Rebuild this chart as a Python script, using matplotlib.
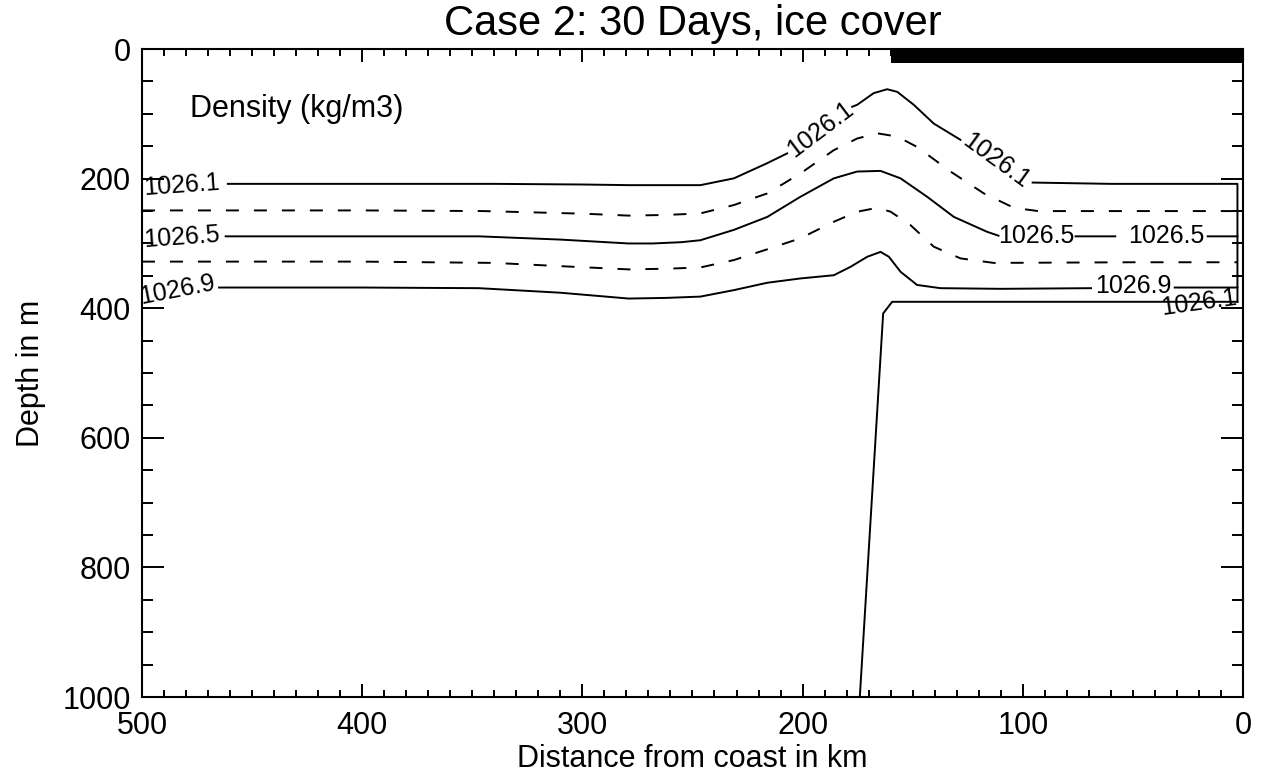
import numpy as np
import matplotlib.pyplot as plt
from matplotlib.ticker import MultipleLocator

plt.rcParams['font.family'] = ['Liberation Sans', 'DejaVu Sans']

# =========================
# DATA (distance from coast in km, depth in m)
# nan marks a gap where a contour label sits
# =========================

x_rho_261 = [461, 400, 340, 300, 279, 262, 246.4, 231.2, 216, 207, np.nan,
             177.5, 175.2, 167.7, 161.6, 157, 149.5, 140.4, 128.3, np.nan,
             95.5, 60, 20, 2.5, 2.5]
d_rho_261 = [208, 208, 208, 209, 210, 210, 210, 199.5, 176, 161, np.nan,
             89, 86, 68, 62, 66, 86, 115, 140, np.nan,
             206, 208, 208, 208, 390]

x_rho_263 = [500, 400, 345, 300, 279, 262, 246.4, 231.2, 216, 201, 185.8,
             175.2, 166.1, 157, 148, 132.8, 117.7, 104, 93, 50, 2.5]
d_rho_263 = [249, 249, 250, 254, 257, 256, 253.6, 240.7, 222.7, 192, 156,
             138, 130, 135, 151, 189, 222.7, 245, 250, 250, 250]

x_rho_265 = [462, 400, 347, 310, 279, 268, 255, 246.4, 231.2, 216, 201, 185.8,
             175.2, 164.6, 155.5, 143.4, 131.3, 116.2, 111, np.nan,
             76, 58, np.nan, 16, 2.5]
d_rho_265 = [289, 289, 289, 294, 300, 300, 298, 295, 279, 259, 228, 199.5,
             189, 188, 199.5, 228, 259, 282, 288, np.nan,
             289, 289, np.nan, 289, 289]

x_rho_267 = [500, 400, 340, 310, 279, 262, 246.4, 231.2, 216, 201, 185.8,
             175.2, 166.1, 160, 151, 140.4, 128.3, 113.2, 50, 2.5]
d_rho_267 = [328, 328, 330, 335, 340, 339, 337, 325.6, 309, 292, 266.5,
             251, 245, 251, 271.6, 305, 323, 330, 329, 329]

x_rho_269 = [465, 400, 347, 310, 279, 262, 246.4, 231.2, 216, 201, 185.8,
             178.2, 170.6, 164.6, 160.8, 155.5, 148, 137.4, 110, 69, np.nan,
             31, 2.5]
d_rho_269 = [368, 368, 369, 376, 385, 384, 382, 372, 360.6, 354, 349,
             336, 320.5, 313, 320.5, 343.7, 364, 369, 370, 369, np.nan,
             368, 368]

# shelf break and shelf
x_bottom = [174, 163.4, 159.3, 2.5]
d_bottom = [1000, 408, 390, 390]

# ice cover extent (km from coast)
ice_x = [160, 0]

# contour labels: text, km, depth, rotation
contour_labels = [
    ("1026.1", 482, 210, 4),
    ("1026.5", 482, 290, 4),
    ("1026.9", 484, 371, 11),
    ("1026.1", 192, 124, 37),
    ("1026.1", 112, 173, -36),
    ("1026.5", 94, 289, 0),
    ("1026.5", 35, 289, 0),
    ("1026.9", 50, 365, 0),
    ("1026.1", 20, 392, 8),
]

# =========================
# GRAFICA
# =========================

fig = plt.figure(figsize=(12.7, 7.79), dpi=100)
ax = fig.add_axes([0.1118, 0.1052, 0.8669, 0.8318])

lw = 1.4
dash = (13 / 1.39 / lw, 15 / 1.39 / lw)

ax.plot(x_rho_261, d_rho_261, color="black", lw=lw)
ax.plot(x_rho_263, d_rho_263, color="black", lw=lw, dashes=dash)
ax.plot(x_rho_265, d_rho_265, color="black", lw=lw)
ax.plot(x_rho_267, d_rho_267, color="black", lw=lw, dashes=dash)
ax.plot(x_rho_269, d_rho_269, color="black", lw=lw)
ax.plot(x_bottom, d_bottom, color="black", lw=lw)

ax.fill_between(ice_x, 0, 22, color="black", lw=0)

for txt, xk, dm, rot in contour_labels:
    ax.text(xk, dm, txt, fontsize=18, ha="center", va="center",
            rotation=rot, rotation_mode="anchor")

ax.text(478, 105, "Density (kg/m3)", fontsize=22, ha="left", va="baseline")

ax.set_xlim(500, 0)
ax.set_ylim(1000, 0)

ax.xaxis.set_major_locator(MultipleLocator(100))
ax.xaxis.set_minor_locator(MultipleLocator(10))
ax.yaxis.set_major_locator(MultipleLocator(200))
ax.yaxis.set_minor_locator(MultipleLocator(50))

ax.tick_params(axis="x", which="both", direction="in", top=True, width=1.4,
               labelsize=22, pad=10)
ax.tick_params(axis="x", which="major", length=9.4)
ax.tick_params(axis="x", which="minor", length=4.7)
ax.tick_params(axis="y", which="both", direction="in", right=True, width=1.4,
               labelsize=22, pad=8)
ax.tick_params(axis="y", which="major", length=15.8)
ax.tick_params(axis="y", which="minor", length=7.9)

for sp in ax.spines.values():
    sp.set_linewidth(1.5)

ax.set_title("Case 2: 30 Days, ice cover", fontsize=30, pad=10)
ax.set_xlabel("Distance from coast in km", fontsize=22, labelpad=2)
ax.set_ylabel("Depth in m", fontsize=22, labelpad=12)

fig.savefig("out.png", dpi=100)
plt.close(fig)
